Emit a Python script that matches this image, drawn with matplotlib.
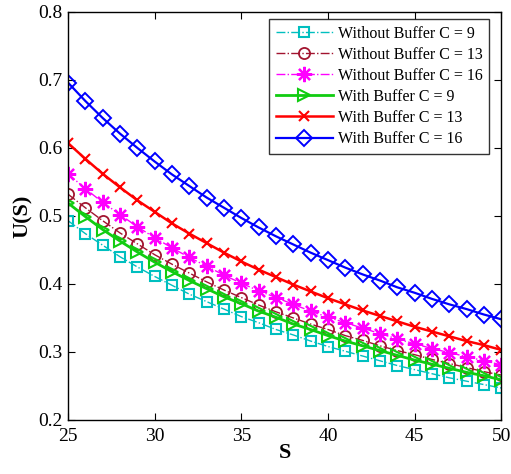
import matplotlib
matplotlib.use("Agg")
import matplotlib.pyplot as plt

S = list(range(25, 51))

wo_c9 = [0.493, 0.474, 0.457, 0.440, 0.425, 0.411, 0.398, 0.385, 0.374, 0.363, 0.352, 0.343, 0.333,
         0.325, 0.316, 0.308, 0.301, 0.294, 0.287, 0.280, 0.274, 0.268, 0.262, 0.257, 0.252, 0.247]
wo_c13 = [0.532, 0.512, 0.493, 0.475, 0.459, 0.443, 0.429, 0.416, 0.403, 0.391, 0.380, 0.369, 0.359,
          0.350, 0.341, 0.333, 0.324, 0.317, 0.309, 0.302, 0.296, 0.289, 0.283, 0.277, 0.271, 0.266]
wo_c16 = [0.562, 0.540, 0.520, 0.502, 0.484, 0.468, 0.453, 0.439, 0.426, 0.413, 0.401, 0.390, 0.380,
          0.370, 0.360, 0.351, 0.343, 0.335, 0.327, 0.319, 0.312, 0.305, 0.299, 0.293, 0.287, 0.281]
w_c9 = [0.519, 0.499, 0.480, 0.463, 0.447, 0.432, 0.418, 0.405, 0.393, 0.381, 0.371, 0.360, 0.351,
        0.341, 0.333, 0.324, 0.316, 0.309, 0.302, 0.295, 0.288, 0.282, 0.276, 0.270, 0.265, 0.259]
w_c13 = [0.607, 0.584, 0.562, 0.542, 0.523, 0.506, 0.489, 0.474, 0.460, 0.446, 0.433, 0.421, 0.410,
         0.399, 0.389, 0.379, 0.370, 0.361, 0.353, 0.345, 0.337, 0.330, 0.323, 0.316, 0.310, 0.303]
w_c16 = [0.696, 0.669, 0.644, 0.621, 0.600, 0.580, 0.561, 0.544, 0.527, 0.512, 0.497, 0.483, 0.470,
         0.458, 0.446, 0.435, 0.424, 0.414, 0.405, 0.395, 0.387, 0.378, 0.370, 0.363, 0.355, 0.348]

labels = ["Without Buffer C = 9", "Without Buffer C = 13", "Without Buffer C = 16",
          "With Buffer C = 9", "With Buffer C = 13", "With Buffer C = 16"]
xticks = [25, 30, 35, 40, 45, 50]
yticks = [0.2, 0.3, 0.4, 0.5, 0.6, 0.7, 0.8]

plt.rcParams['font.family'] = ['Liberation Serif', 'DejaVu Serif']

fig = plt.figure(figsize=(5.11, 4.74), dpi=100)
ax = fig.add_axes([0.133, 0.114, 0.848, 0.861])

ax.plot(S, wo_c9, color='#00BFBF', ls='-.', lw=1.0, marker='s', ms=7, mfc='none', mew=1.5, label=labels[0])
ax.plot(S, wo_c13, color='#A2142F', ls='-.', lw=1.0, marker='o', ms=8, mfc='none', mew=1.3, label=labels[1])
ax.plot(S, wo_c16, color='#FF00FF', ls='-.', lw=1.0, marker=(8, 2, 0), ms=11, mew=1.6, label=labels[2])
ax.plot(S, w_c9, color='#11CC11', ls='-', lw=2.0, marker='>', ms=9, mfc='none', mew=1.5, label=labels[3])
ax.plot(S, w_c13, color='#FF0000', ls='-', lw=1.8, marker='x', ms=7, mew=1.5, label=labels[4])
ax.plot(S, w_c16, color='#0000FF', ls='-', lw=1.6, marker='D', ms=8, mfc='none', mew=1.4, label=labels[5])

ax.set_xlim(25, 50)
ax.set_ylim(0.2, 0.8)
ax.set_xticks(xticks)
ax.set_yticks(yticks)
ax.set_yticklabels([f"{v:.1f}" for v in yticks])
ax.tick_params(direction='in', top=True, right=True, labelsize=14, length=5, pad=4)
ax.tick_params(axis='x', pad=6)
for sp in ax.spines.values():
    sp.set_linewidth(1.0)

ax.set_xlabel('S', fontsize=16, fontweight='bold', labelpad=-2)
ax.set_ylabel('U(S)', fontsize=16, fontweight='bold', labelpad=4)

leg = ax.legend(loc='upper right', bbox_to_anchor=(0.972, 0.982), fontsize=11.5, frameon=True,
                fancybox=False, edgecolor='black', handlelength=3.6, handletextpad=0.3,
                labelspacing=0.32, borderpad=0.4, borderaxespad=0.0)
leg.get_frame().set_linewidth(1.0)

fig.savefig('out.png', dpi=100)
